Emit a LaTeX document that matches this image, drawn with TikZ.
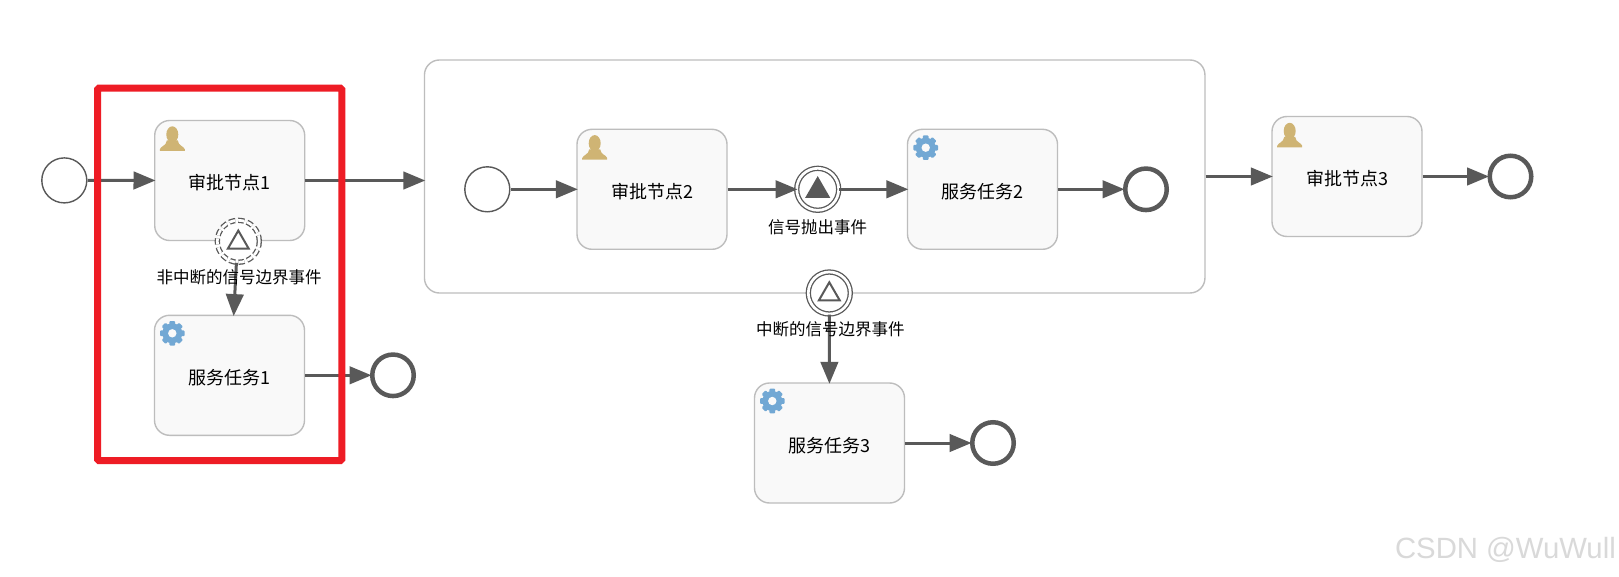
\documentclass[tikz,border=0pt]{standalone}
\usepackage{fontspec}
\setmainfont{Noto Sans CJK SC}
\newfontfamily\markfont{Liberation Sans}
\usepackage{tikz}
\usetikzlibrary{arrows.meta,shapes.geometric}
\definecolor{FlowGray}{HTML}{595959}
\definecolor{TaskFill}{HTML}{F9F9F9}
\definecolor{TaskEdge}{HTML}{BDBDBD}
\definecolor{UserGold}{HTML}{CFB474}
\definecolor{GearBlue}{HTML}{72A8D4}
\definecolor{MarkRed}{HTML}{EE1C25}
\newcommand{\tasktext}[1]{\rule{0pt}{19.5pt}#1\hspace{6pt}}
\tikzset{
  usericon/.pic={
    \fill[UserGold] (0,-4) ellipse (6 and 8.2);
    \fill[UserGold] (-12.5,12.3) -- (-12.5,10.8) .. controls (-11.5,7.5) and (-6,7.5) .. (-5.5,2)
      -- (5.5,2) .. controls (6,7.5) and (11.5,7.5) .. (12.5,10.8) -- (12.5,12.3) -- cycle;
  },
  gearicon/.pic={
    \fill[GearBlue] (0,0) circle (10);
    \foreach \a in {0,45,...,315}
      \fill[GearBlue,rotate=\a,rounded corners=1pt] (-2.9,-12.3) rectangle (2.9,-8);
    \fill[TaskFill] (0,0) circle (4.2);
  }
}
\begin{document}
\begin{tikzpicture}[
  x=1pt, y=-1pt,
  task/.style={draw=TaskEdge, line width=1.4pt, rounded corners=15pt, fill=TaskFill,
               minimum width=150pt, minimum height=120pt, inner sep=0pt,
               font=\fontsize{18}{20}\selectfont},
  startev/.style={draw=FlowGray, circle, line width=1.4pt, fill=white,
                  minimum size=45pt, inner sep=0pt},
  endev/.style={draw=FlowGray, circle, line width=4.5pt, fill=white,
                minimum size=41.5pt, inner sep=0pt},
  sigev/.style={draw=FlowGray, circle, line width=1.3pt, double=white,
                double distance=2.7pt, fill=white, minimum size=42pt, inner sep=0pt},
  sigtri/.style={regular polygon, regular polygon sides=3, inner sep=0pt},
  lbl/.style={font=\fontsize{16.5}{18}\selectfont, inner sep=0pt},
  flow/.style={draw=FlowGray, line width=3pt, shorten >=-1.5pt,
               -{Triangle[length=22pt,width=17.5pt]}}]
  \useasboundingbox[fill=white] (0,0) rectangle (1619,577);
  % sub process
  \node[draw=TaskEdge, line width=1.4pt, rounded corners=15pt, fill=white, minimum width=780.5pt,
        minimum height=233pt, inner sep=0pt] (sub) at (814.7,176.5) {};
  % tasks
  \node[task] (appr1) at (229.7,180.5) {\tasktext{审批节点1}};
  \node[task] (serv1) at (229.5,375.3) {\tasktext{服务任务1}};
  \node[task] (appr2) at (652,189.3) {\tasktext{审批节点2}};
  \node[task] (serv2) at (982.5,189.3) {\tasktext{服务任务2}};
  \node[task] (appr3) at (1347,176.5) {\tasktext{审批节点3}};
  \node[task] (serv3) at (829.5,443) {\tasktext{服务任务3}};
  \pic at (172.3,138.5) {usericon};
  \pic at (594.7,147.3) {usericon};
  \pic at (1289.7,135) {usericon};
  \pic at (172.3,333.3) {gearicon};
  \pic at (925.7,147.7) {gearicon};
  \pic at (772.3,401) {gearicon};
  % events
  \node[startev] (st1) at (64.3,180.4) {};
  \node[startev] (st2) at (487.3,189.3) {};
  \node[endev] (en1) at (393,375.3) {};
  \node[endev] (en2) at (1146,189.3) {};
  \node[endev] (en3) at (993,443) {};
  \node[endev] (en4) at (1510.5,176.5) {};
  \node[sigev, dash pattern=on 6pt off 3pt] (bnd1) at (238.3,241.3) {};
  \node[sigev] (thr1) at (817.7,189.3) {};
  \node[sigev] (bnd2) at (829.3,293) {};
  % flows
  \draw[flow] (st1) -- (appr1);
  \draw[flow] (appr1.east) -- (sub.west |- appr1.east);
  \draw[flow] (bnd1.265) -- (serv1.86.5);
  \draw[flow] (serv1) -- (en1);
  \draw[flow] (st2) -- (appr2);
  \draw[flow] (appr2) -- (thr1);
  \draw[flow] (thr1) -- (serv2);
  \draw[flow] (serv2) -- (en2);
  \draw[flow] (sub.east) -- (appr3.west);
  \draw[flow] (appr3) -- (en4);
  \draw[flow] (bnd2) -- (serv3);
  \draw[flow] (serv3) -- (en3);
  % signal marks
  \node[sigtri, draw=FlowGray, line width=2pt, minimum size=24pt, yshift=-1.3pt] (tri1) at (bnd1) {};
  \node[sigtri, fill=FlowGray, minimum size=29pt, yshift=-1.3pt] (tri2) at (thr1) {};
  \node[sigtri, draw=FlowGray, line width=2pt, minimum size=24pt, yshift=-1.3pt] (tri3) at (bnd2) {};
  % labels
  \node[lbl] (lab1) at (239,277.7) {非中断的信号边界事件};
  \node[lbl] (lab2) at (817.7,227) {信号抛出事件};
  \node[lbl] (lab3) at (830.3,329.3) {中断的信号边界事件};
  % annotation
  \draw[MarkRed, line width=7pt, rounded corners=1.5pt] (97.5,88.2) rectangle (341.8,460.7);
  \node[font=\markfont\fontsize{29.3}{32}\selectfont, text=black!15, anchor=east, inner sep=0pt] (wm) at (1616,550) {CSDN @WuWull};
\end{tikzpicture}
\end{document}
